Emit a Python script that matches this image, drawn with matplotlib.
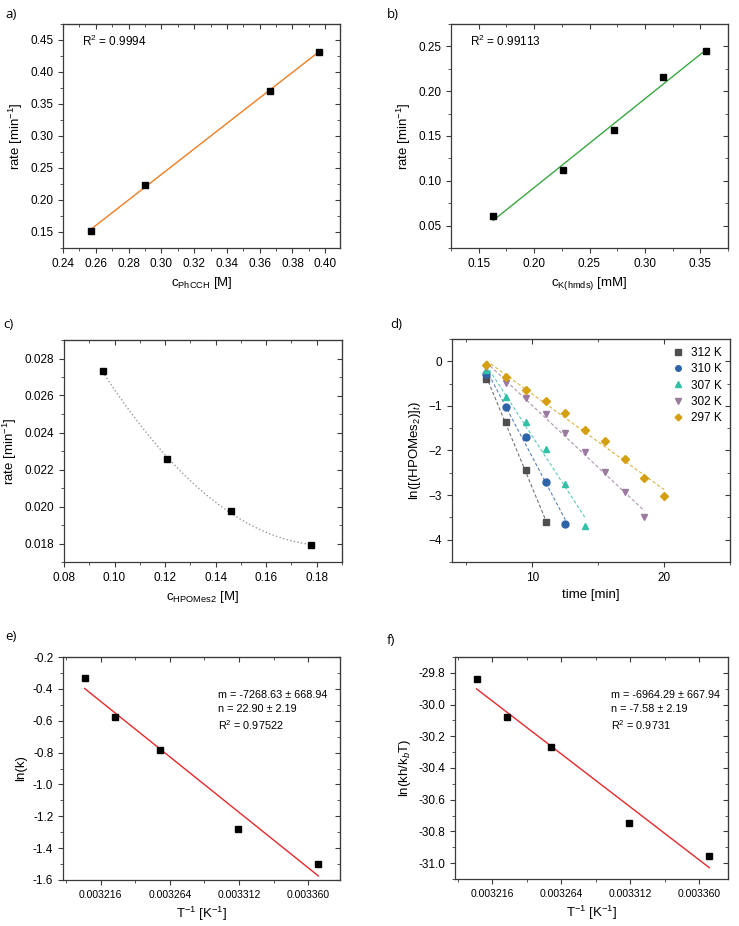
import numpy as np
import matplotlib
matplotlib.use("Agg")
import matplotlib.pyplot as plt
from matplotlib.ticker import MultipleLocator, FixedLocator, FormatStrFormatter

plt.rcParams['font.family'] = ['Liberation Sans', 'DejaVu Sans']
plt.rcParams['mathtext.fontset'] = 'custom'
plt.rcParams['mathtext.rm'] = 'Liberation Sans'
plt.rcParams['mathtext.it'] = 'Liberation Sans:italic'
plt.rcParams['font.size'] = 8.5

# a) rate vs c(PhCCH)
a_x = [0.257, 0.290, 0.366, 0.396]
a_y = [0.152, 0.223, 0.371, 0.431]

# b) rate vs c(K(hmds))
b_x = [0.163, 0.226, 0.272, 0.316, 0.355]
b_y = [0.061, 0.112, 0.157, 0.216, 0.245]

# c) rate vs c(HPOMes2)
c_x = [0.0953, 0.1207, 0.1460, 0.1777]
c_y = [0.02733, 0.02255, 0.01977, 0.01792]

# d) ln([HPOMes2]t) vs time
d_labels = ['312 K', '310 K', '307 K', '302 K', '297 K']
d_t = [[6.5, 8, 9.5, 11],
       [6.5, 8, 9.5, 11, 12.5],
       [6.5, 8, 9.5, 11, 12.5, 14],
       [6.5, 8, 9.5, 11, 12.5, 14, 15.5, 17, 18.5],
       [6.5, 8, 9.5, 11, 12.5, 14, 15.5, 17, 18.5, 20]]
d_ln = [[-0.39, -1.36, -2.44, -3.60],
        [-0.28, -1.02, -1.70, -2.71, -3.64],
        [-0.19, -0.81, -1.37, -1.97, -2.75, -3.69],
        [-0.13, -0.49, -0.82, -1.18, -1.61, -2.04, -2.48, -2.94, -3.49],
        [-0.09, -0.35, -0.64, -0.90, -1.17, -1.55, -1.79, -2.18, -2.61, -3.03]]
d_colors = ['#4f4f4f', '#2f63a8', '#2fc0a6', '#9a7a9e', '#d4a012']
d_markers = ['s', 'o', '^', 'v', 'D']

# e) / f) Arrhenius / Eyring
T_inv = [0.003205, 0.003226, 0.003257, 0.003311, 0.003367]
e_lnk = [-0.332, -0.578, -0.781, -1.278, -1.497]
f_ln = [-29.836, -30.076, -30.266, -30.749, -30.952]
T_ticks = [0.003216, 0.003264, 0.003312, 0.003360]
T_minor = [0.003192, 0.003240, 0.003288, 0.003336]

fig = plt.figure(figsize=(7.39, 9.26), dpi=100)
W, H = 739, 926


def add_ax(x0, y0, x1, y1):
    return fig.add_axes([x0 / W, 1 - y1 / H, (x1 - x0) / W, (y1 - y0) / H])


def style(ax):
    for s in ax.spines.values():
        s.set_color('#3a3a3a')
        s.set_linewidth(0.9)
    ax.tick_params(which='both', direction='out', color='#3a3a3a', labelsize=8.5)
    ax.tick_params(which='major', length=3.5)
    ax.tick_params(which='minor', length=2)
    # mirrored ticks pointing inward
    top = ax.secondary_xaxis('top')
    top.set_xticks(ax.get_xticks())
    top.xaxis.set_minor_locator(FixedLocator(ax.xaxis.get_minorticklocs()))
    top.tick_params(which='both', direction='in', labeltop=False, color='#3a3a3a')
    top.tick_params(which='major', length=3.5)
    top.tick_params(which='minor', length=2)
    right = ax.secondary_yaxis('right')
    right.set_yticks(ax.get_yticks())
    right.yaxis.set_minor_locator(FixedLocator(ax.yaxis.get_minorticklocs()))
    right.tick_params(which='both', direction='in', labelright=False, color='#3a3a3a')
    right.tick_params(which='major', length=3.5)
    right.tick_params(which='minor', length=2)
    for s in list(top.spines.values()) + list(right.spines.values()):
        s.set_color('#3a3a3a')


def fit_line(ax, x, y, color, ls='-', lw=1.0, **kw):
    p = np.polyfit(x, y, 1)
    xs = np.array([min(x), max(x)])
    ax.plot(xs, np.polyval(p, xs), color=color, ls=ls, lw=lw, zorder=1, **kw)


# panel a
ax = add_ax(63, 24, 340, 248)
fit_line(ax, a_x, a_y, '#ef7d22')
ax.plot(a_x, a_y, 's', color='black', ms=4, zorder=3)
ax.xaxis.set_major_locator(MultipleLocator(0.02))
ax.xaxis.set_minor_locator(MultipleLocator(0.01))
ax.yaxis.set_major_locator(MultipleLocator(0.05))
ax.yaxis.set_minor_locator(MultipleLocator(0.025))
ax.xaxis.set_major_formatter(FormatStrFormatter('%.2f'))
ax.yaxis.set_major_formatter(FormatStrFormatter('%.2f'))
ax.set_xlim(0.24, 0.409)
ax.set_ylim(0.125, 0.475)
ax.set_xlabel(r'c$_{\mathrm{PhCCH}}$ [M]', fontsize=9.5)
ax.set_ylabel(r'rate [min$^{-1}$]', fontsize=9.5)
ax.text(0.07, 0.9, r'R$^2$ = 0.9994', transform=ax.transAxes, fontsize=8.5)
style(ax)

# panel b
ax = add_ax(451, 24, 728, 248)
fit_line(ax, b_x, b_y, '#3aa840')
ax.plot(b_x, b_y, 's', color='black', ms=4, zorder=3)
ax.xaxis.set_major_locator(MultipleLocator(0.05))
ax.xaxis.set_minor_locator(MultipleLocator(0.025))
ax.yaxis.set_major_locator(MultipleLocator(0.05))
ax.yaxis.set_minor_locator(MultipleLocator(0.025))
ax.xaxis.set_major_formatter(FormatStrFormatter('%.2f'))
ax.yaxis.set_major_formatter(FormatStrFormatter('%.2f'))
ax.set_xlim(0.125, 0.375)
ax.set_ylim(0.025, 0.275)
ax.set_xlabel(r'c$_{\mathrm{K(hmds)}}$ [mM]', fontsize=9.5)
ax.set_ylabel(r'rate [min$^{-1}$]', fontsize=9.5)
ax.text(0.07, 0.9, r'R$^2$ = 0.99113', transform=ax.transAxes, fontsize=8.5)
style(ax)

# panel c
ax = add_ax(64, 340, 342, 562)
pc = np.polyfit(c_x, c_y, 2)
xs = np.linspace(min(c_x), max(c_x), 100)
ax.plot(xs, np.polyval(pc, xs), ls=':', color='#999999', lw=1.0, zorder=1)
ax.plot(c_x, c_y, 's', color='black', ms=4, zorder=3)
ax.xaxis.set_major_locator(MultipleLocator(0.02))
ax.xaxis.set_minor_locator(MultipleLocator(0.01))
ax.yaxis.set_major_locator(MultipleLocator(0.002))
ax.yaxis.set_minor_locator(MultipleLocator(0.001))
ax.xaxis.set_major_formatter(FormatStrFormatter('%.2f'))
ax.yaxis.set_major_formatter(FormatStrFormatter('%.3f'))
ax.set_xlim(0.08, 0.19)
ax.set_ylim(0.017, 0.029)
ax.set_xlabel(r'c$_{\mathrm{HPOMes2}}$ [M]', fontsize=9.5)
ax.set_ylabel(r'rate [min$^{-1}$]', fontsize=9.5)
style(ax)

# panel d
ax = add_ax(452, 339, 730, 562)
for t, v, col, mk, lab in zip(d_t, d_ln, d_colors, d_markers, d_labels):
    fit_line(ax, t, v, col, ls=(0, (3, 2)), lw=0.8, alpha=0.8)
    ax.plot(t, v, mk, color=col, ms=5 if mk != 'D' else 4.3, label=lab, zorder=3, ls='none')
ax.xaxis.set_major_locator(MultipleLocator(10))
ax.xaxis.set_minor_locator(MultipleLocator(5))
ax.yaxis.set_major_locator(MultipleLocator(1))
ax.yaxis.set_minor_locator(MultipleLocator(0.5))
ax.set_xlim(3.9, 25)
ax.set_ylim(-4.5, 0.5)
ax.set_xlabel('time [min]', fontsize=9.5)
ax.set_ylabel(r'ln([(HPOMes$_2$)]$_t$)', fontsize=9.5)
ax.legend(loc='upper right', frameon=False, fontsize=8.5, handletextpad=0.6,
          labelspacing=0.35, handlelength=1.0, markerscale=0.8, borderaxespad=0.3)
style(ax)

# panel e
ax = add_ax(63, 657, 340, 880)
fit_line(ax, T_inv, e_lnk, '#e8282b')
ax.plot(T_inv, e_lnk, 's', color='black', ms=4, zorder=3)
ax.xaxis.set_major_locator(FixedLocator(T_ticks))
ax.xaxis.set_minor_locator(FixedLocator(T_minor))
ax.xaxis.set_major_formatter(FormatStrFormatter('%.6f'))
ax.yaxis.set_major_locator(MultipleLocator(0.2))
ax.yaxis.set_minor_locator(MultipleLocator(0.1))
ax.yaxis.set_major_formatter(FormatStrFormatter('%.1f'))
ax.set_xlim(0.00319, 0.003382)
ax.set_ylim(-1.6, -0.2)
ax.set_xlabel(r'T$^{-1}$ [K$^{-1}$]', fontsize=9.5)
ax.set_ylabel('ln(k)', fontsize=9.5)
ax.text(0.56, 0.85, 'm = -7268.63 \u00b1 668.94\nn = 22.90 \u00b1 2.19\nR$^2$ = 0.97522',
        transform=ax.transAxes, fontsize=7.8, va='top', linespacing=1.4)
style(ax)
ax.tick_params(axis='x', labelsize=7.5)

# panel f
ax = add_ax(455, 657, 728, 879)
fit_line(ax, T_inv, f_ln, '#e8282b')
ax.plot(T_inv, f_ln, 's', color='black', ms=4, zorder=3)
ax.xaxis.set_major_locator(FixedLocator(T_ticks))
ax.xaxis.set_minor_locator(FixedLocator(T_minor))
ax.xaxis.set_major_formatter(FormatStrFormatter('%.6f'))
ax.yaxis.set_major_locator(MultipleLocator(0.2))
ax.yaxis.set_minor_locator(MultipleLocator(0.1))
ax.yaxis.set_major_formatter(FormatStrFormatter('%.1f'))
ax.set_xlim(0.00319, 0.00338)
ax.set_ylim(-31.1, -29.7)
ax.set_xlabel(r'T$^{-1}$ [K$^{-1}$]', fontsize=9.5)
ax.set_ylabel(r'ln(kh/k$_b$T)', fontsize=9.5)
ax.text(0.57, 0.85, 'm = -6964.29 \u00b1 667.94\nn = -7.58 \u00b1 2.19\nR$^2$ = 0.9731',
        transform=ax.transAxes, fontsize=7.8, va='top', linespacing=1.4)
style(ax)
ax.tick_params(axis='x', labelsize=7.5)

# panel letters
for lab, x, y in [('a)', 5, 14), ('b)', 387, 14), ('c)', 3, 325),
                  ('d)', 390, 325), ('e)', 5, 637), ('f)', 387, 640)]:
    fig.text(x / W, 1 - y / H, lab, fontsize=9.5, family='Open Sans', va='center')

fig.savefig('out.png', dpi=100)
